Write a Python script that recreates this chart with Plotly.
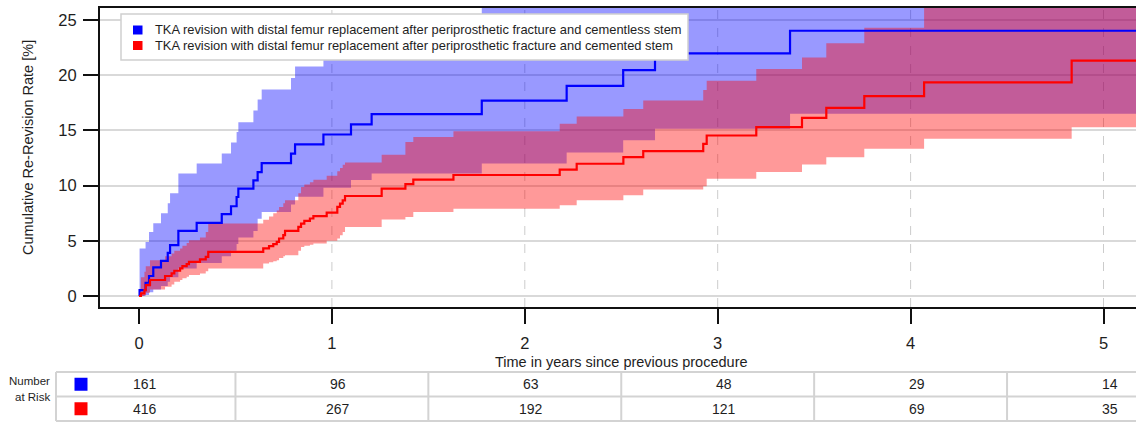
import plotly.graph_objects as go

# Cumulative re-revision rate (%) with 95% confidence bounds, step functions in years
cementless_years = [0, 0.003, 0.034, 0.052, 0.074, 0.114, 0.149, 0.161, 0.204, 0.299,
                    0.429, 0.477, 0.506, 0.515, 0.593, 0.615, 0.636, 0.788, 0.809, 0.956,
                    1.099, 1.206, 1.777, 2.217, 2.510, 2.675, 3.375]
cementless_rate = [0, 0.54, 1.20, 1.81, 2.59, 3.19, 3.91, 4.61, 5.90, 6.62,
                   7.41, 8.13, 8.97, 9.73, 10.48, 11.23, 12.04, 12.89, 13.73, 14.63,
                   15.54, 16.48, 17.70, 19.03, 20.47, 21.98, 24.03]
cementless_lower = [0, 0.0, 0.1, 0.35, 0.6, 0.9, 1.3, 1.7, 2.5, 3.0,
                    3.6, 4.1, 4.7, 5.3, 5.9, 7.0, 7.6, 8.3, 9.0, 9.8,
                    10.5, 11.1, 12.0, 13.0, 14.1, 15.15, 16.5]
cementless_upper = [0, 4.3, 4.9, 5.8, 6.6, 7.5, 8.4, 9.3, 11.1, 12.0,
                    12.9, 13.9, 14.85, 15.75, 16.8, 17.8, 18.7, 19.75, 20.8, 22.8,
                    24.2, 25.5, 27.5, 29.0, 30.5, 32.0, 34.5]

cemented_years = [0, 0.010, 0.028, 0.035, 0.057, 0.135, 0.169, 0.183, 0.213, 0.225,
                  0.247, 0.259, 0.316, 0.346, 0.359, 0.644, 0.674, 0.696, 0.714, 0.726,
                  0.748, 0.757, 0.826, 0.840, 0.857, 0.886, 0.904, 0.973, 1.028, 1.042,
                  1.056, 1.068, 1.258, 1.381, 1.422, 1.630, 2.181, 2.269, 2.511, 2.614,
                  2.925, 2.943, 3.200, 3.437, 3.563, 3.760, 4.070, 4.835]
cemented_rate = [0, 0.24, 0.54, 0.99, 1.45, 1.81, 2.05, 2.29, 2.50, 2.71,
                 2.89, 3.10, 3.31, 3.55, 4.00, 4.31, 4.52, 4.70, 4.91, 5.21,
                 5.51, 5.90, 6.26, 6.56, 6.80, 7.02, 7.23, 7.56, 8.07, 8.37,
                 8.67, 9.06, 9.73, 10.14, 10.55, 10.96, 11.45, 11.98, 12.58, 13.13,
                 13.79, 14.54, 15.29, 16.14, 17.04, 18.10, 19.36, 21.32]
cemented_lower = [0, 0.0, 0.1, 0.3, 0.6, 0.84, 1.05, 1.29, 1.45, 1.6,
                  1.75, 1.9, 2.05, 2.25, 2.5, 2.95, 3.05, 3.15, 3.25, 3.45,
                  3.6, 3.7, 4.1, 4.45, 4.55, 4.65, 4.76, 5.0, 5.21, 5.51,
                  5.8, 6.26, 6.93, 7.16, 7.6, 7.9, 8.22, 8.67, 9.12, 9.64,
                  9.95, 10.63, 11.23, 11.92, 12.58, 13.34, 14.24, 15.29]
cemented_upper = [0, 1.7, 2.2, 2.7, 3.25, 3.6, 3.85, 4.1, 4.3, 4.55,
                  4.8, 5.06, 5.3, 5.8, 6.56, 6.9, 7.2, 7.5, 7.75, 8.07,
                  8.4, 8.67, 9.3, 9.87, 10.1, 10.3, 10.54, 10.9, 11.3, 11.6,
                  11.9, 12.1, 12.8, 13.94, 14.4, 14.93, 15.6, 16.26, 16.95, 17.7,
                  18.67, 19.5, 20.56, 21.6, 22.9, 24.3, 27.0, 30.0]

follow_up_end = 5.3

# Number at risk table
risk_years = [0, 1, 2, 3, 4, 5]
risk_cementless = [161, 96, 63, 48, 29, 14]
risk_cemented = [416, 267, 192, 121, 69, 35]

x_ticks = [0, 1, 2, 3, 4, 5]
y_ticks = [0, 5, 10, 15, 20, 25]

series_labels = [
    "TKA revision with distal femur replacement after periprosthetic fracture and cementless stem",
    "TKA revision with distal femur replacement after periprosthetic fracture and cemented stem",
]
series_colors = ["#0000FF", "#FF0000"]
band_colors = ["rgba(0,0,255,0.4)", "rgba(255,0,0,0.4)"]

W, H = 1136, 423
M_L, M_R, M_T, M_B = 100, 0, 8, 116
PLOT_W = W - M_L - M_R
PLOT_H = H - M_T - M_B
X_RANGE = [-0.2022, 5.1685]
Y_RANGE = [-0.996, 26.09]
FONT = "Liberation Sans, Arial, sans-serif"
TEXT = "#1E1E1E"


def px_x(px):
    return (px - M_L) / PLOT_W


def px_y(py):
    return (M_T + PLOT_H - py) / PLOT_H


def year_to_paper(t):
    return (t - X_RANGE[0]) / (X_RANGE[1] - X_RANGE[0])


def extend(values):
    return list(values) + [values[-1]]


fig = go.Figure()

groups = [
    (cementless_years, cementless_rate, cementless_lower, cementless_upper),
    (cemented_years, cemented_rate, cemented_lower, cemented_upper),
]

# confidence bands (cemented drawn over cementless)
for (t, rate, lo, hi), fc in zip(groups, band_colors):
    tx = list(t) + [follow_up_end]
    fig.add_trace(go.Scatter(x=tx, y=extend(lo), mode="lines",
                             line=dict(width=0, shape="hv"),
                             showlegend=False, hoverinfo="skip"))
    fig.add_trace(go.Scatter(x=tx, y=extend(hi), mode="lines",
                             line=dict(width=0, shape="hv"),
                             fill="tonexty", fillcolor=fc,
                             showlegend=False, hoverinfo="skip"))

# step curves
for (t, rate, lo, hi), lc, name in zip(groups, series_colors, series_labels):
    tx = list(t) + [follow_up_end]
    fig.add_trace(go.Scatter(x=tx, y=extend(rate), mode="lines",
                             line=dict(color=lc, width=2.2, shape="hv"),
                             name=name, showlegend=False))

shapes = []
annotations = []

# dashed vertical grid at each year
for yr in x_ticks[1:]:
    shapes.append(dict(type="line", xref="x", yref="paper", x0=yr, x1=yr, y0=0, y1=1,
                       line=dict(color="#CCCCCC", width=1, dash="dash"), layer="below"))

# legend box
lg_l, lg_r, lg_t, lg_b = 121, 688, 14, 60
shapes.append(dict(type="rect", xref="paper", yref="paper",
                   x0=px_x(lg_l), x1=px_x(lg_r), y0=px_y(lg_b), y1=px_y(lg_t),
                   fillcolor="white", line=dict(color="#D0D0D0", width=1.5), layer="above"))
for i, (lab, col) in enumerate(zip(series_labels, series_colors)):
    cy = 30 + i * 15.5
    shapes.append(dict(type="rect", xref="paper", yref="paper",
                       x0=px_x(133), x1=px_x(142.5), y0=px_y(cy + 4.5), y1=px_y(cy - 4.5),
                       fillcolor=col, line=dict(width=0), layer="above"))
    annotations.append(dict(text=lab, xref="paper", yref="paper", x=px_x(153), y=px_y(cy),
                            xanchor="left", yanchor="middle", showarrow=False,
                            font=dict(family=FONT, size=12.9, color=TEXT)))

# axis titles
annotations.append(dict(text="Cumulative Re-Revision Rate [%]", xref="paper", yref="paper",
                        x=px_x(28), y=px_y(148), textangle=-90, showarrow=False,
                        xanchor="center", yanchor="middle",
                        font=dict(family=FONT, size=14.5, color=TEXT)))
annotations.append(dict(text="Time in years since previous procedure", xref="paper", yref="paper",
                        x=px_x(621), y=px_y(362), showarrow=False,
                        xanchor="center", yanchor="middle",
                        font=dict(family=FONT, size=14.5, color=TEXT)))

# number at risk table
row_edges = [372, 396.5, 421]
tbl_left = 56
grid_col = "#D3D3D3"
for ry in row_edges:
    shapes.append(dict(type="line", xref="paper", yref="paper", x0=px_x(tbl_left), x1=1.0,
                       y0=px_y(ry), y1=px_y(ry), line=dict(color=grid_col, width=2)))
col_edges = [px_x(tbl_left)] + [year_to_paper(y + 0.5) for y in risk_years[:-1]]
for cx in col_edges:
    shapes.append(dict(type="line", xref="paper", yref="paper", x0=cx, x1=cx,
                       y0=px_y(row_edges[0]), y1=px_y(row_edges[-1]),
                       line=dict(color=grid_col, width=2)))

for r, (counts, col) in enumerate(zip([risk_cementless, risk_cemented], series_colors)):
    cy = (row_edges[r] + row_edges[r + 1]) / 2
    shapes.append(dict(type="rect", xref="paper", yref="paper",
                       x0=px_x(74.5), x1=px_x(87.5), y0=px_y(cy + 6.5), y1=px_y(cy - 6.5),
                       fillcolor=col, line=dict(width=0)))
    for yr, n in zip(risk_years, counts):
        annotations.append(dict(text=str(n), xref="x", yref="paper", x=yr, y=px_y(cy),
                                xshift=6, showarrow=False, xanchor="center", yanchor="middle",
                                font=dict(family=FONT, size=14, color=TEXT)))

annotations.append(dict(text="Number", xref="paper", yref="paper", x=px_x(52), y=px_y(381),
                        xanchor="right", yanchor="middle", showarrow=False,
                        font=dict(family=FONT, size=11.5, color=TEXT)))
annotations.append(dict(text="at Risk", xref="paper", yref="paper", x=px_x(52), y=px_y(397),
                        xanchor="right", yanchor="middle", showarrow=False,
                        font=dict(family=FONT, size=11.5, color=TEXT)))

fig.update_layout(
    width=W, height=H, autosize=False,
    margin=dict(l=M_L, r=M_R, t=M_T, b=M_B, pad=0),
    paper_bgcolor="white", plot_bgcolor="white",
    showlegend=False,
    shapes=shapes, annotations=annotations,
    font=dict(family=FONT, color=TEXT),
)
fig.update_xaxes(range=X_RANGE, tickvals=x_ticks, ticks="outside", ticklen=15, tickwidth=2,
                 tickcolor="#111111", showline=True, linecolor="#111111", linewidth=2,
                 mirror=True, showgrid=False, zeroline=False, ticklabelstandoff=5,
                 tickfont=dict(family=FONT, size=16.5, color=TEXT))
fig.update_yaxes(range=Y_RANGE, tickvals=y_ticks, ticks="outside", ticklen=15, tickwidth=2,
                 tickcolor="#111111", showline=True, linecolor="#111111", linewidth=2,
                 mirror=False, showgrid=True, gridcolor="#D9D9D9", gridwidth=1.5,
                 zeroline=False, ticklabelstandoff=3,
                 tickfont=dict(family=FONT, size=16.5, color=TEXT))

fig.write_html("out.html")
